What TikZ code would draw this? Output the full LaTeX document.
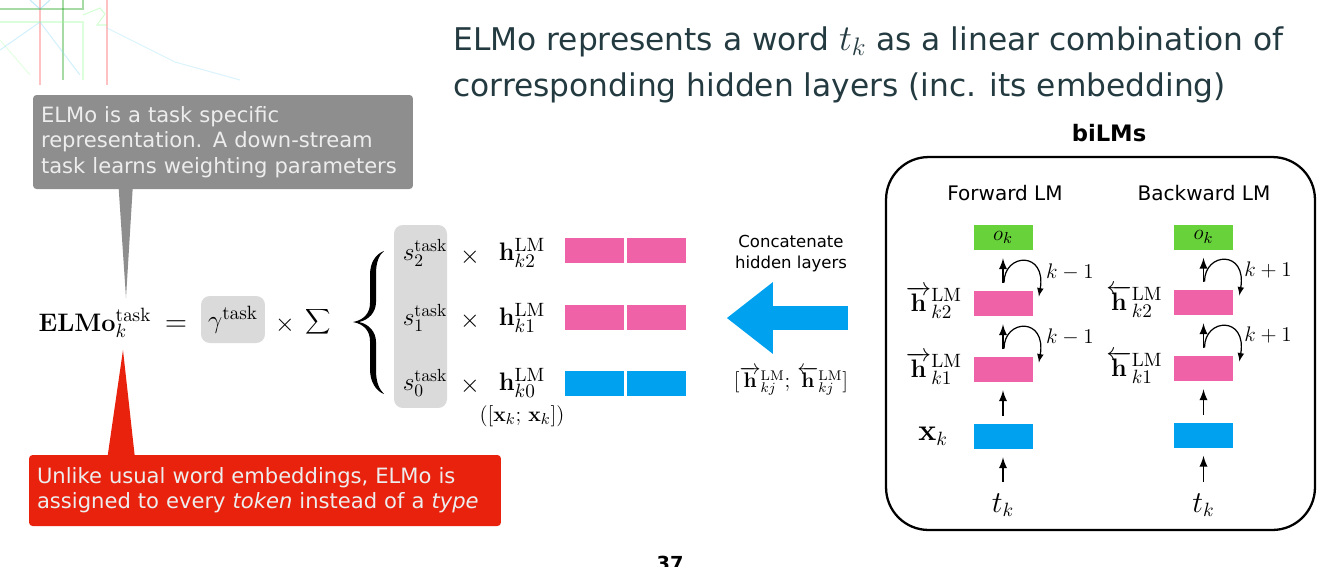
\documentclass[tikz,border=0pt]{standalone}
\usepackage[no-math]{fontspec}
\setmainfont{DejaVu Sans}
\newfontfamily\titlefont{DejaVu Sans}
\usetikzlibrary{calc,positioning,shapes.arrows}

\definecolor{titleink}{RGB}{35,58,64}
\definecolor{notegray}{RGB}{142,142,142}
\definecolor{notered}{RGB}{233,34,14}
\definecolor{coefgray}{RGB}{218,218,218}
\definecolor{hidpink}{RGB}{240,98,168}
\definecolor{embblue}{RGB}{0,162,240}
\definecolor{outgreen}{RGB}{104,210,58}

\newcommand{\fwdh}{\smash{\overrightarrow{\mathbf{h}}}}
\newcommand{\bwdh}{\smash{\overleftarrow{\mathbf{h}}}}

\begin{document}
\begin{tikzpicture}[x=0.02cm, y=-0.02cm,
note/.style={
        rounded corners=2pt,
        inner xsep=0.16cm,
        align=left,
        text=white!93!black,
        font=\fontsize{12}{14.4}\selectfont,
    },
   coef/.style = {
   fill=coefgray,
   rounded corners=5pt,
   inner sep=0pt,
   },
   mathlbl/.style = {font=\fontsize{14}{16}\selectfont, inner sep=0pt},
   layer/.style = {
   minimum width=1.18cm,
   minimum height=0.5cm,
   inner sep=0pt,
   },
   hid/.style = {layer, fill=hidpink},
   emb/.style = {layer, fill=embblue},
   outl/.style = {layer, fill=outgreen, font=\fontsize{13}{13}\selectfont},
   up/.style = {-latex, line width=1.1pt, shorten <=0.15cm, shorten >=0.16cm},
   loopy/.style = {-latex, line width=0.7pt},
   lmtitle/.style = {font=\fontsize{11.4}{13}\selectfont},
   steplbl/.style = {mathlbl, font=\fontsize{13}{13}\selectfont},
 ]
\useasboundingbox (0,0) rectangle (1342,566);

% template decoration
\begin{scope}[line width=0.6pt, opacity=0.35]
\draw[red!70] (40,0) -- (40,85);
\draw[red!70] (107,0) -- (107,85);
\draw[green!60!black] (63,0) -- (63,80);
\draw[green!60!black] (0,9) -- (83,9) -- (83,0);
\draw[green!40] (0,22) -- (83,22) -- (83,80);
\draw[cyan!70] (30,0) -- (40,9) -- (50,0);
\draw[cyan!50] (0,50) -- (40,22) -- (80,75);
\draw[green!50] (83,15) -- (100,8) -- (105,14) -- (97,25) -- (107,25);
\draw[cyan!40] (107,28) -- (175,62) -- (240,80);
\draw[green!30] (0,40) -- (30,75);
\end{scope}

% title
\node[anchor=base west, inner sep=0pt, text=titleink, font=\titlefont\fontsize{17.8}{20}\selectfont] (title1) at (453,50) {ELMo represents a word {\fontsize{22}{22}\selectfont$t_k$} as a linear combination of};
\node[anchor=base west, inner sep=0pt, text=titleink, font=\titlefont\fontsize{17.8}{20}\selectfont] (title2) at (453,96) {corresponding hidden layers (inc. its embedding)};

% call-outs
\node[note, fill=notegray, minimum width=7.6cm, minimum height=1.88cm, text width=7.28cm] (graynote) at (223,142) {ELMo is a task specific\\ representation. A down-stream\\ task learns weighting parameters};
\node[note, fill=notered, minimum width=9.44cm, minimum height=1.42cm, text width=9.12cm] (rednote) at (265,490.5) {Unlike usual word embeddings, ELMo is\\ assigned to every \textit{token} instead of a \textit{type}};
\coordinate (graytip) at (126,298);
\coordinate (redtip) at (123,350);
\fill[notegray] ($(graynote.south west)+(86,-1)$) -- (graytip) -- ($(graynote.south west)+(100,-1)$) -- cycle;
\fill[notered] ($(rednote.north west)+(79,1)$) -- (redtip) -- ($(rednote.north west)+(106,1)$) -- cycle;

% formula
\node[mathlbl, anchor=base] (elmo) at (95,331) {\fontsize{15}{18}\selectfont$\mathbf{ELMo}_k^{\mathrm{task}}$};
\node[mathlbl, anchor=base] (eq) at (176,331) {\fontsize{18}{18}\selectfont$=$};
\node[coef, minimum width=1.28cm, minimum height=0.94cm, font=\fontsize{15}{16}\selectfont] (gamma) at (233,319.5) {$\gamma^{\mathrm{task}}$};
\node[mathlbl] (times) at (285,325) {$\times$};
\node[mathlbl] (sigma) at (318,322) {\fontsize{15}{16}\selectfont$\displaystyle\sum$};
\fill (384,251) .. controls (376,254) and (370,262) .. (370,275) -- (370,303)
   .. controls (370,313) and (364,320) .. (353,322)
   .. controls (364,324) and (370,331) .. (370,341) -- (370,369)
   .. controls (370,382) and (376,391) .. (384,394)
   .. controls (379,389) and (376,382) .. (376,370) -- (376,342)
   .. controls (376,332) and (369,324) .. (359,322)
   .. controls (369,320) and (376,312) .. (376,302) -- (376,274)
   .. controls (376,262) and (379,255) .. (384,251) -- cycle;
\node[coef, minimum width=1.06cm, minimum height=3.66cm] (sbox) at (420.5,316.5) {};

\node[mathlbl] (s2) at (425,253) {$s_2^{\mathrm{task}}$};
\node[mathlbl] (s1) at (425,318) {$s_1^{\mathrm{task}}$};
\node[mathlbl] (s0) at (425,383) {$s_0^{\mathrm{task}}$};
\node[mathlbl] (x2) at (470,257) {$\times$};
\node[mathlbl] (x1) at (470,321) {$\times$};
\node[mathlbl] (x0) at (470,386) {$\times$};
\node[mathlbl, font=\fontsize{15}{16}\selectfont] (h2) at (522,253) {$\mathbf{h}_{k2}^{\mathrm{LM}}$};
\node[mathlbl, font=\fontsize{15}{16}\selectfont] (h1) at (522,318) {$\mathbf{h}_{k1}^{\mathrm{LM}}$};
\node[mathlbl, font=\fontsize{15}{16}\selectfont] (h0) at (522,383) {$\mathbf{h}_{k0}^{\mathrm{LM}}$};
\node[mathlbl, below=0.14cm of h0, font=\fontsize{13}{14}\selectfont] (h0note) {$([\mathbf{x}_k;\,\mathbf{x}_k])$};

% concatenated vectors
\node[hid] (hb2a) at (594.5,250.5) {};
\node[hid, right=0.04cm of hb2a] (hb2b) {};
\node[hid] (hb1a) at (594.5,317) {};
\node[hid, right=0.04cm of hb1a] (hb1b) {};
\node[emb] (hb0a) at (594.5,383.5) {};
\node[emb, right=0.04cm of hb0a] (hb0b) {};

% big arrow
\node[single arrow, fill=embblue, inner sep=0.23cm, minimum height=2.42cm, single arrow head extend=0.48cm, single arrow tip angle=76, shape border rotate=180] (concat) at (795,318) {};
\node[align=center, font=\fontsize{9.4}{12}\selectfont] (concatlbl) at (791,254) {Concatenate\\ hidden layers};
\node[font=\fontsize{12}{13}\selectfont] (concatmath) at (791,383) {$[\fwdh_{kj}^{\mathrm{LM}};\,\bwdh_{kj}^{\mathrm{LM}}]$};

% biLMs panel
\node[font=\bfseries\fontsize{12.9}{14}\selectfont] (bilms) at (1109,133) {biLMs};
\node[draw, line width=1.3pt, rounded corners=0.85cm, minimum width=8.58cm, minimum height=7.46cm] (panel) at (1100.5,343.5) {};
\node[lmtitle] (fwd) at (1005,193) {Forward LM};
\node[lmtitle] (bwd) at (1204,193) {Backward LM};

% forward LM
\node[outl] (fo) at (1003,237.5) {$o_k$};
\node[hid] (fh2) at (1003,303.5) {};
\node[hid] (fh1) at (1003,369.5) {};
\node[emb] (fx) at (1003,436.5) {};
\node[mathlbl, font=\fontsize{16}{16}\selectfont] (ft) at (1003,505) {$t_k$};
\node[mathlbl, left=0.22cm of fh2, font=\fontsize{15}{16}\selectfont] (fh2lbl) {$\fwdh_{k2}^{\mathrm{LM}}$};
\node[mathlbl, left=0.22cm of fh1, font=\fontsize{15}{16}\selectfont] (fh1lbl) {$\fwdh_{k1}^{\mathrm{LM}}$};
\node[mathlbl, left=0.5cm of fx, font=\fontsize{16}{16}\selectfont] (fxlbl) {$\mathbf{x}_k$};
\draw[up, shorten <=0.22cm] (ft) -- (fx);
\draw[up] (fx) -- (fh1);
\draw[up] (fh1) -- (fh2);
\draw[up] (fh2) -- (fo);
\draw[loopy] ($(fh1.north)+(1,-8)$) .. controls +(0,-30) and +(8,-46) .. ($(fh1.north east)+(6,6)$);
\draw[loopy] ($(fh2.north)+(1,-8)$) .. controls +(0,-30) and +(8,-46) .. ($(fh2.north east)+(6,6)$);
\node[steplbl] (fk1) at (1070,337) {$k-1$};
\node[steplbl] (fk2) at (1070,272) {$k-1$};

% backward LM
\node[outl] (bo) at (1203.5,237) {$o_k$};
\node[hid] (bh2) at (1203.5,302.5) {};
\node[hid] (bh1) at (1203.5,368.5) {};
\node[emb] (bx) at (1203.5,435) {};
\node[mathlbl, font=\fontsize{16}{16}\selectfont] (bt) at (1203.5,505) {$t_k$};
\node[mathlbl, left=0.22cm of bh2, font=\fontsize{15}{16}\selectfont] (bh2lbl) {$\bwdh_{k2}^{\mathrm{LM}}$};
\node[mathlbl, left=0.22cm of bh1, font=\fontsize{15}{16}\selectfont] (bh1lbl) {$\bwdh_{k1}^{\mathrm{LM}}$};
\draw[up, shorten <=0.22cm] (bt) -- (bx);
\draw[up] (bx) -- (bh1);
\draw[up] (bh1) -- (bh2);
\draw[up] (bh2) -- (bo);
\draw[loopy] ($(bh1.north)+(1,-8)$) .. controls +(0,-30) and +(8,-46) .. ($(bh1.north east)+(6,6)$);
\draw[loopy] ($(bh2.north)+(1,-8)$) .. controls +(0,-30) and +(8,-46) .. ($(bh2.north east)+(6,6)$);
\node[steplbl] (bk1) at (1268,335) {$k+1$};
\node[steplbl] (bk2) at (1268,270) {$k+1$};

% page number
\node[font=\bfseries\fontsize{11}{12}\selectfont] (pagenum) at (670,563) {37};
\end{tikzpicture}
\end{document}
